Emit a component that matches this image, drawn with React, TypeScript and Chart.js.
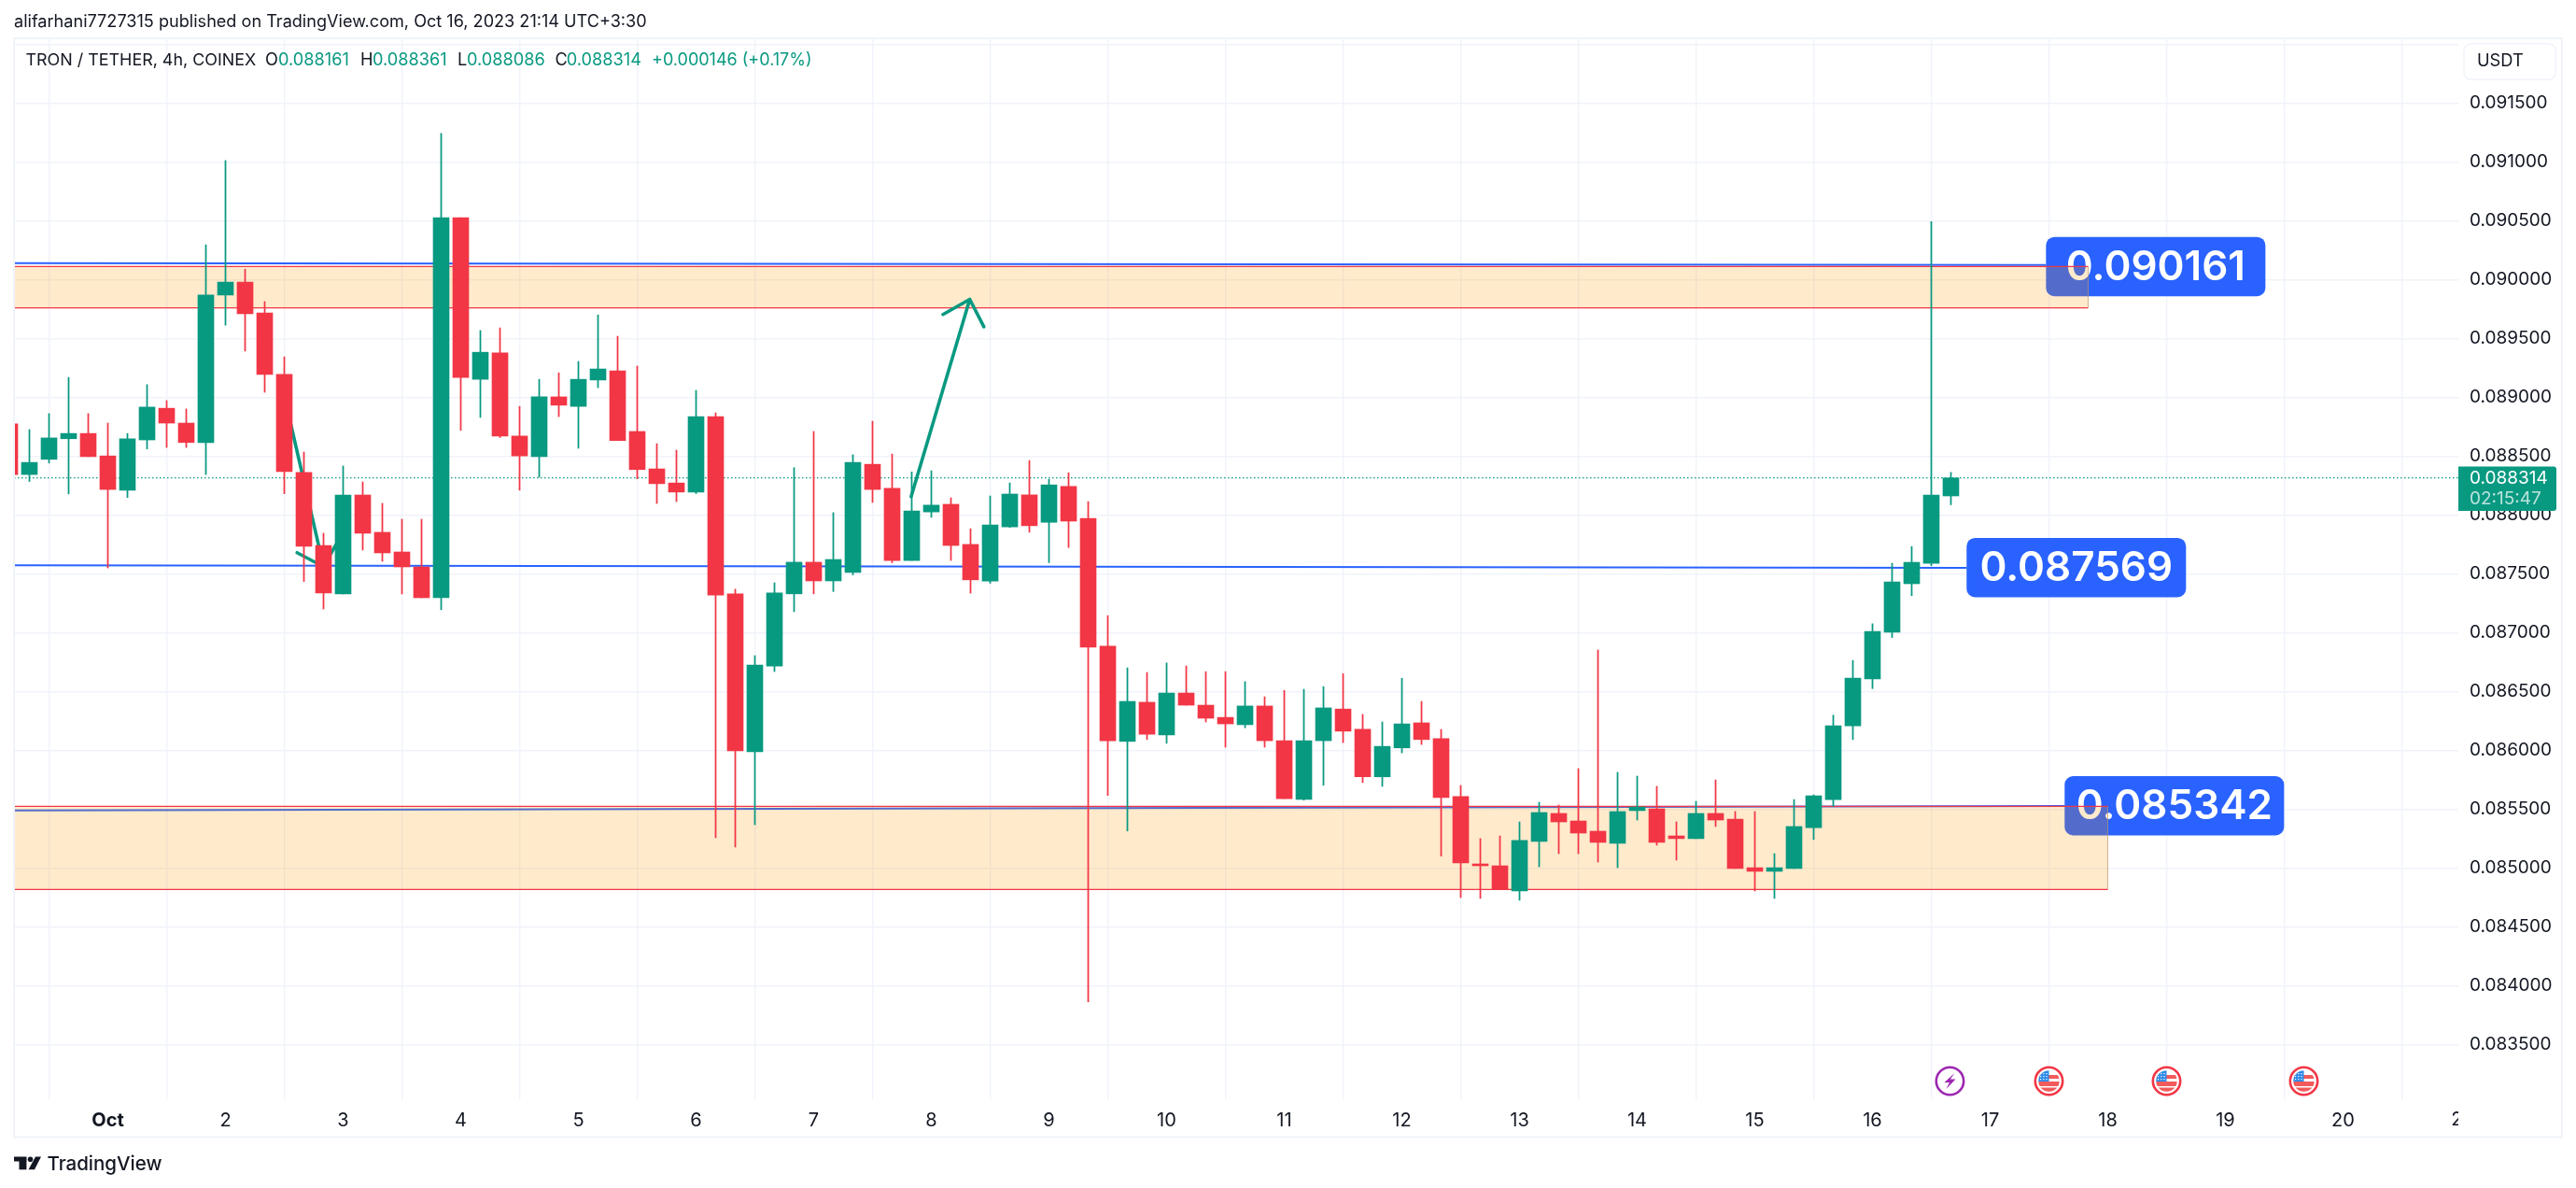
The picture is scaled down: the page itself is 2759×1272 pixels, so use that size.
import React, { useEffect, useRef } from "react";
import { Chart, registerables } from "chart.js";

Chart.register(...registerables);

const W = 2759;
const H = 1272;
const GREEN = "#089981";
const RED = "#F23645";
const BLUE = "#2962FF";
const INK = "#131722";
const GRID = "#F0F3FA";
const FONT = "Inter, 'Noto Sans', sans-serif";

// Candles, one every 4 h. Index 0 is the partly visible candle left of the frame.
const firstCandle = -5; // candles counted from Oct 1 00:00
const opens = [
  0.088774, 0.088343, 0.088472, 0.088647, 0.088692, 0.088501, 0.08821, 0.088637, 0.088906, 0.08878,
  0.088615, 0.089868, 0.089978, 0.089716, 0.089194, 0.08836, 0.08774, 0.087328, 0.088169, 0.087852,
  0.087685, 0.087558, 0.087296, 0.090525, 0.089152, 0.089376, 0.08867, 0.088495, 0.089003, 0.088922,
  0.089146, 0.089223, 0.088709, 0.088391, 0.088271, 0.088194, 0.088835, 0.087329, 0.085987, 0.086716,
  0.087329, 0.087598, 0.087439, 0.08751, 0.08843, 0.088226, 0.087613, 0.088025, 0.08809, 0.087749,
  0.087438, 0.087898, 0.08817, 0.087937, 0.088242, 0.08797, 0.086884, 0.086075, 0.086408, 0.08613,
  0.086486, 0.086383, 0.086279, 0.086217, 0.086376, 0.086081, 0.085582, 0.086081, 0.08635, 0.086178,
  0.085774, 0.08602, 0.086233, 0.086098, 0.085606, 0.085034, 0.085018, 0.084804, 0.085225, 0.085463,
  0.085399, 0.085312, 0.085209, 0.085487, 0.085502, 0.085272, 0.085249, 0.085463, 0.085415, 0.085002,
  0.084971, 0.084995, 0.085342, 0.085581, 0.086208, 0.086606, 0.087002, 0.087415, 0.087589, 0.088161,
];
const closes = [
  0.088343, 0.088446, 0.088654, 0.088692, 0.088495, 0.088216, 0.088647, 0.088916, 0.08878, 0.088615,
  0.089868, 0.089978, 0.089709, 0.089194, 0.088368, 0.087733, 0.087336, 0.088169, 0.087844, 0.087677,
  0.087558, 0.087296, 0.090525, 0.089168, 0.089382, 0.08867, 0.088501, 0.089003, 0.088932, 0.089152,
  0.08924, 0.088631, 0.088385, 0.088265, 0.088194, 0.088835, 0.087319, 0.085994, 0.086724, 0.087336,
  0.087598, 0.087439, 0.087621, 0.088446, 0.088216, 0.087613, 0.088034, 0.088083, 0.08774, 0.087448,
  0.087915, 0.088177, 0.087908, 0.088255, 0.087947, 0.086875, 0.086081, 0.086415, 0.086136, 0.086486,
  0.086383, 0.086272, 0.086224, 0.086376, 0.086081, 0.085589, 0.086081, 0.08636, 0.086162, 0.085774,
  0.086033, 0.086224, 0.086091, 0.085598, 0.085042, 0.085018, 0.084815, 0.085233, 0.085471, 0.085391,
  0.085296, 0.085217, 0.085479, 0.085518, 0.085217, 0.085249, 0.085463, 0.085407, 0.084995, 0.084971,
  0.085002, 0.085352, 0.085613, 0.086208, 0.086613, 0.08701, 0.087431, 0.087597, 0.088168, 0.088314,
];
const highs = [
  0.088774, 0.088725, 0.088861, 0.089168, 0.088861, 0.08878, 0.088692, 0.089107, 0.088971, 0.0889,
  0.090295, 0.091011, 0.090088, 0.089813, 0.089343, 0.088534, 0.087844, 0.088415, 0.08828, 0.088098,
  0.087963, 0.087963, 0.091241, 0.090525, 0.089567, 0.089589, 0.088922, 0.089152, 0.089207, 0.089304,
  0.089699, 0.089518, 0.089265, 0.088605, 0.08855, 0.089058, 0.088867, 0.087368, 0.086804, 0.087423,
  0.088401, 0.088709, 0.088019, 0.088511, 0.088796, 0.088517, 0.088365, 0.088375, 0.088145, 0.087882,
  0.088161, 0.088271, 0.088462, 0.088303, 0.088358, 0.088112, 0.087144, 0.0867, 0.086661, 0.086742,
  0.086716, 0.086668, 0.086668, 0.086583, 0.086454, 0.086509, 0.086518, 0.086541, 0.086651, 0.086305,
  0.08624, 0.086612, 0.086415, 0.086177, 0.085701, 0.085249, 0.085272, 0.085391, 0.085558, 0.085534,
  0.085844, 0.086852, 0.085812, 0.08578, 0.085693, 0.085391, 0.085566, 0.085748, 0.085479, 0.085479,
  0.085121, 0.085581, 0.085621, 0.086298, 0.086763, 0.087075, 0.087589, 0.087731, 0.090492, 0.088361,
];
const lows = [
  0.088343, 0.088284, 0.08844, 0.088178, 0.088495, 0.087549, 0.088148, 0.08856, 0.088573, 0.088573,
  0.088343, 0.089612, 0.089392, 0.089042, 0.08818, 0.087434, 0.087201, 0.087328, 0.087701, 0.087606,
  0.087328, 0.087296, 0.087193, 0.088718, 0.088828, 0.088657, 0.08821, 0.08832, 0.088835, 0.088566,
  0.089081, 0.088631, 0.088307, 0.088097, 0.088113, 0.088181, 0.085256, 0.085178, 0.085367, 0.086669,
  0.087178, 0.087329, 0.087349, 0.08749, 0.088106, 0.087594, 0.087613, 0.087979, 0.087613, 0.087335,
  0.087419, 0.087892, 0.087853, 0.087594, 0.087723, 0.083862, 0.085616, 0.085314, 0.086091, 0.086059,
  0.086383, 0.08624, 0.086026, 0.086191, 0.086026, 0.085589, 0.085576, 0.085702, 0.086065, 0.085725,
  0.085693, 0.085978, 0.086049, 0.0851, 0.084748, 0.084741, 0.084815, 0.084725, 0.08501, 0.085121,
  0.085121, 0.08505, 0.085002, 0.085407, 0.085193, 0.085066, 0.085249, 0.085352, 0.084995, 0.084804,
  0.084741, 0.084995, 0.085241, 0.085524, 0.086091, 0.086524, 0.086958, 0.087314, 0.087569, 0.088086,
];

// Axes
const priceTicks = [
  0.0835, 0.084, 0.0845, 0.085, 0.0855, 0.086, 0.0865, 0.087, 0.0875, 0.088, 0.0885, 0.089, 0.0895,
  0.09, 0.0905, 0.091, 0.0915, 0.092,
];
const dayLabels = ["Oct", "2", "3", "4", "5", "6", "7", "8", "9", "10", "11", "12", "13", "14", "15", "16", "17", "18", "19", "20"];
const candlesPerDay = 6;
const xMin = -4.7857;
const xMax = 119.881;
const yMin = 0.083034;
const yMax = 0.092042;

// Drawings: [time index, price]
const lastPrice = 0.088314;
const upperLevel = [[-5, 0.09014], [98.85, 0.090124]];
const middleLevel = [[-5, 0.087571], [94.8, 0.08755]];
const lowerLevel = [[-5, 0.085489], [99.8, 0.085526]];
const smallArrow = [[9.25, 0.08883], [11.0, 0.08756], [9.65, 0.087679], [11.0, 0.08756], [11.63, 0.087745]];
const bigArrow = [[40.97, 0.088155], [43.96, 0.089832], [42.59, 0.089703], [43.96, 0.089832], [44.68, 0.089599]];
const zones = [
  { end: 101, top: 0.09011, bottom: 0.08976 },
  { end: 102, top: 0.085523, bottom: 0.084817 },
];
const callouts = [
  { text: "0.090161", start: 98.85, price: 0.090108 },
  { text: "0.087569", start: 94.8, price: 0.08755 },
  { text: "0.085342", start: 99.8, price: 0.085526 },
];
const eventBolt = [93.95];
const eventFlags = [99.0, 105.0, 112.0];

const xs = opens.map((_, i) => firstCandle + i);
const isUp = (i: number) => closes[i] >= opens[i];
const pts = (a: number[][]) => a.map(([x, y]) => ({ x, y }));

const txt = (c: CanvasRenderingContext2D, s: string, x: number, y: number, font: string, color: string, align: CanvasTextAlign = "left") => {
  c.font = font;
  c.fillStyle = color;
  c.textAlign = align;
  c.textBaseline = "middle";
  c.fillText(s, x, y);
};

const roundBox = (c: CanvasRenderingContext2D, x: number, y: number, w: number, h: number, r: any) => {
  c.beginPath();
  c.roundRect(x, y, w, h, r);
};

const underlay = {
  id: "underlay",
  beforeDatasetsDraw(chart: any) {
    const c: CanvasRenderingContext2D = chart.ctx;
    const sx = chart.scales.x;
    const sy = chart.scales.y;
    const a = chart.chartArea;
    c.save();
    c.beginPath();
    c.rect(a.left, a.top, a.right - a.left, a.bottom - a.top);
    c.clip();
    callouts.forEach((b) => {
      const x = sx.getPixelForValue(b.start);
      const y = sy.getPixelForValue(b.price);
      c.fillStyle = BLUE;
      roundBox(c, x, y - 32, 235, 63.5, 9);
      c.fill();
      txt(c, b.text, x + 117.5, y + 1, `600 44px ${FONT}`, "#FFFFFF", "center");
    });
    c.restore();
  },
  // the zones lie over the level lines and the callouts, under the candles
  beforeDatasetDraw(chart: any, args: any) {
    if (args.meta.label !== "big arrow") return;
    const c: CanvasRenderingContext2D = chart.ctx;
    const sx = chart.scales.x;
    const sy = chart.scales.y;
    const a = chart.chartArea;
    c.save();
    c.beginPath();
    c.rect(a.left, a.top, a.right - a.left, a.bottom - a.top);
    c.clip();
    zones.forEach((z) => {
      const l = a.left;
      const r = sx.getPixelForValue(z.end);
      const t = sy.getPixelForValue(z.top);
      const b = sy.getPixelForValue(z.bottom);
      c.fillStyle = "rgba(255,152,0,0.2)";
      c.fillRect(l, t, r - l, b - t);
      c.strokeStyle = "rgba(190,150,110,0.7)";
      c.lineWidth = 1;
      c.beginPath();
      c.moveTo(r, t);
      c.lineTo(r, b);
      c.stroke();
      c.strokeStyle = RED;
      c.lineWidth = 1.3;
      c.beginPath();
      c.moveTo(l, t);
      c.lineTo(r, t);
      c.moveTo(l, b);
      c.lineTo(r, b);
      c.stroke();
    });
    c.restore();
  },
};

const overlay = {
  id: "overlay",
  afterDraw(chart: any) {
    const c: CanvasRenderingContext2D = chart.ctx;
    const sx = chart.scales.x;
    const a = chart.chartArea;
    c.save();
    // frame
    c.strokeStyle = GRID;
    c.lineWidth = 2;
    c.strokeRect(15, 41, 2729, 1176.5);

    // clipped date at the right edge of the time scale
    c.save();
    c.beginPath();
    c.rect(a.left, a.bottom, a.right - a.left, 50);
    c.clip();
    txt(c, "21", sx.getPixelForValue(dayLabels.length * candlesPerDay), 1199, `400 20px ${FONT}`, INK, "center");
    c.restore();

    // header
    txt(c, "alifarhani7727315 published on TradingView.com, Oct 16, 2023 21:14 UTC+3:30", 15, 24, `400 18.1px ${FONT}`, INK);

    // legend
    const lf = `400 18.2px ${FONT}`;
    txt(c, "TRON / TETHER, 4h, COINEX", 27.5, 65, `400 17.9px ${FONT}`, INK);
    [
      ["O", 284, "0.088161", 298],
      ["H", 386, "0.088361", 399],
      ["L", 490, "0.088086", 500],
      ["C", 594.5, "0.088314", 606.8],
    ].forEach(([k, kx, v, vx]) => {
      txt(c, k as string, kx as number, 65, lf, INK);
      txt(c, v as string, vx as number, 65, lf, GREEN);
    });
    txt(c, "+0.000146 (+0.17%)", 698, 65, `400 18px ${FONT}`, GREEN);

    // USDT button
    c.strokeStyle = GRID;
    c.lineWidth = 1.5;
    c.fillStyle = "#FFFFFF";
    roundBox(c, 2639, 46.7, 98.3, 38.6, 8);
    c.fill();
    c.stroke();
    txt(c, "USDT", 2653, 66, `400 18.3px ${FONT}`, INK);

    // last price tag
    c.fillStyle = GREEN;
    roundBox(c, 2633, 499.5, 105, 47.5, [0, 3, 3, 0]);
    c.fill();
    txt(c, "0.088314", 2645, 512.5, `400 19px ${FONT}`, "#FFFFFF");
    txt(c, "02:15:47", 2645, 534, `400 19px ${FONT}`, "rgba(255,255,255,0.72)");

    // events
    const ey = 1157.5;
    eventBolt.forEach((k) => {
      const x = sx.getPixelForValue(k);
      c.strokeStyle = "#9C27B0";
      c.lineWidth = 2.6;
      c.beginPath();
      c.arc(x, ey, 14.7, 0, Math.PI * 2);
      c.stroke();
      c.fillStyle = "#9C27B0";
      c.beginPath();
      c.moveTo(x + 5, ey - 8.5);
      c.lineTo(x - 6, ey + 1.5);
      c.lineTo(x - 0.5, ey + 1.5);
      c.lineTo(x - 4, ey + 8.5);
      c.lineTo(x + 6, ey - 2);
      c.lineTo(x + 0.5, ey - 2);
      c.closePath();
      c.fill();
    });
    eventFlags.forEach((k) => {
      const x = sx.getPixelForValue(k);
      c.strokeStyle = RED;
      c.lineWidth = 2.6;
      c.beginPath();
      c.arc(x, ey, 14.7, 0, Math.PI * 2);
      c.stroke();
      c.save();
      c.beginPath();
      c.arc(x, ey, 11.2, 0, Math.PI * 2);
      c.clip();
      c.fillStyle = "#FFFFFF";
      c.fillRect(x - 12, ey - 12, 24, 24);
      c.fillStyle = "#F15B5B";
      c.fillRect(x - 12, ey - 6.5, 24, 4);
      c.fillRect(x - 12, ey + 0.5, 24, 5);
      c.fillRect(x - 12, ey + 7, 24, 5);
      c.fillStyle = "#2E8BE8";
      c.fillRect(x - 12, ey - 12, 12, 12.5);
      c.fillStyle = "#FFFFFF";
      for (let i = 0; i < 3; i++) for (let j = 0; j < 3; j++) c.fillRect(x - 9.5 + i * 3.2, ey - 8.5 + j * 3, 1.2, 1.2);
      c.restore();
    });

    // watermark
    c.fillStyle = INK;
    c.fillRect(15, 1238.5, 13.5, 5);
    c.fillRect(20.5, 1243, 7.9, 9.3);
    c.beginPath();
    c.arc(32.5, 1241.2, 2.8, 0, Math.PI * 2);
    c.fill();
    c.beginPath();
    c.moveTo(38, 1238.5);
    c.lineTo(44, 1238.5);
    c.lineTo(37, 1252.3);
    c.lineTo(30.5, 1252.3);
    c.closePath();
    c.fill();
    txt(c, "TradingView", 50.5, 1246.5, `500 20.5px ${FONT}`, INK);
    c.restore();
  },
};

export default function App() {
  const ref = useRef<HTMLCanvasElement>(null);
  useEffect(() => {
    document.body.style.margin = "0";
    document.body.style.overflow = "hidden";
    const level = (d: number[][], label: string) => ({
      type: "line",
      label,
      data: pts(d),
      borderColor: BLUE,
      borderWidth: 2,
      pointRadius: 0,
      order: 3,
    });
    const arrow = (d: number[][], label: string) => ({
      type: "line",
      label,
      data: pts(d),
      borderColor: GREEN,
      borderWidth: 3.6,
      borderCapStyle: "round",
      borderJoinStyle: "round",
      pointRadius: 0,
      order: 2,
    });
    const chart = new Chart(ref.current as HTMLCanvasElement, {
      type: "bar",
      data: {
        datasets: [
          {
            label: "bodies",
            data: xs.map((x, i) => ({ x, y: [opens[i], closes[i]] })),
            backgroundColor: xs.map((_, i) => (isUp(i) ? GREEN : RED)),
            barThickness: 17,
            grouped: false,
            order: 0,
          },
          {
            label: "wicks",
            data: xs.map((x, i) => ({ x, y: [lows[i], highs[i]] })),
            backgroundColor: xs.map((_, i) => (isUp(i) ? GREEN : RED)),
            barThickness: 1.1,
            grouped: false,
            order: 1,
          },
          arrow(smallArrow, "small arrow"),
          arrow(bigArrow, "big arrow"),
          level(upperLevel, "upper level"),
          level(middleLevel, "middle level"),
          level(lowerLevel, "lower level"),
          {
            type: "line",
            label: "last price",
            data: pts([[xMin, lastPrice], [xMax, lastPrice]]),
            borderColor: GREEN,
            borderWidth: 1.3,
            borderDash: [1.5, 2.5],
            pointRadius: 0,
            order: 4,
          },
        ] as any,
      },
      options: {
        animation: false,
        responsive: false,
        devicePixelRatio: 1,
        layout: { padding: { left: 15, top: 42, right: 0, bottom: 0 } },
        plugins: { legend: { display: false }, tooltip: { enabled: false } },
        scales: {
          x: {
            type: "linear",
            offset: false,
            min: xMin,
            max: xMax,
            border: { display: false },
            grid: { color: GRID, lineWidth: 1.4, drawTicks: false },
            afterBuildTicks: (s: any) => {
              s.ticks = dayLabels.map((_, i) => ({ value: i * candlesPerDay }));
            },
            afterFit: (s: any) => {
              s.height = 95;
            },
            ticks: {
              autoSkip: false,
              maxRotation: 0,
              padding: 11,
              color: INK,
              font: (ctx: any) => ({
                family: FONT,
                size: 20,
                weight: ctx.index === 0 ? 700 : 400,
              }),
              callback: (_: any, i: number) => dayLabels[i],
            },
          },
          y: {
            type: "linear",
            position: "right",
            min: yMin,
            max: yMax,
            border: { display: false },
            grid: { color: GRID, lineWidth: 1.4, drawTicks: false },
            afterBuildTicks: (s: any) => {
              s.ticks = priceTicks.map((value) => ({ value }));
            },
            afterFit: (s: any) => {
              s.width = 126;
            },
            ticks: {
              autoSkip: false,
              padding: 12,
              color: INK,
              font: { family: FONT, size: 19, weight: 400 },
              callback: (v: any) => (Number(v) >= 0.092 ? "" : Number(v).toFixed(6)),
            },
          },
        },
      } as any,
      plugins: [underlay, overlay],
    });
    return () => chart.destroy();
  }, []);
  return <canvas ref={ref} width={W} height={H} style={{ position: "absolute", left: 0, top: 0, width: W, height: H }} />;
}
